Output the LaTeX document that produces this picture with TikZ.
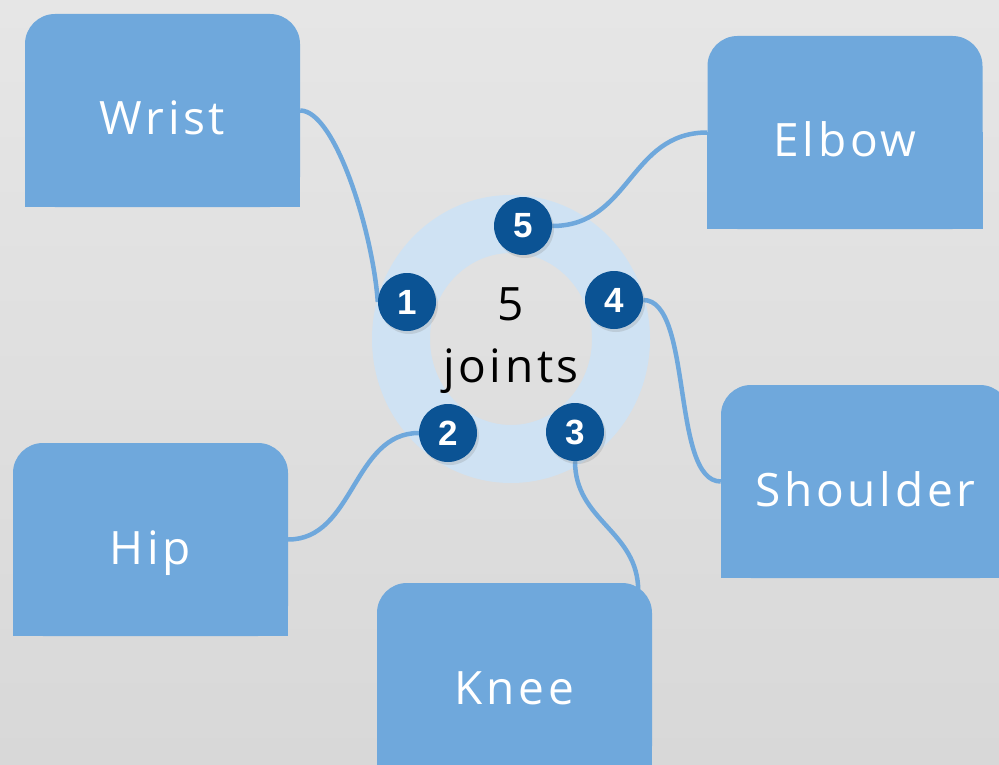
\documentclass[tikz,border=0pt]{standalone}
\usepackage{fontspec}
\setmainfont{Open Sans}
\newfontfamily\lblfont[LetterSpace=8]{Open Sans}
\newfontfamily\numfont{Liberation Sans}
\usetikzlibrary{shadows}
\definecolor{boxc}{HTML}{6FA8DC}
\definecolor{ringc}{HTML}{CFE2F3}
\definecolor{badgec}{HTML}{0B5394}
\definecolor{bgtop}{HTML}{E6E6E6}
\definecolor{bgbot}{HTML}{D8D8D8}
\pgfdeclarelayer{bg}
\pgfdeclarelayer{lines}
\pgfsetlayers{bg,lines,main}
\begin{document}
\begin{tikzpicture}[x=1pt,y=-1pt,
  jbox/.style={fill=boxc, minimum width=275pt, minimum height=193pt, rounded corners=30pt, inner sep=0pt},
  lbl/.style={text=white, font=\lblfont\fontsize{46}{50}\selectfont, anchor=base, inner sep=0pt},
  badge/.style={circle, fill=badgec, minimum size=58pt, inner sep=0pt, text=white,
    font=\numfont\bfseries\fontsize{35}{38}\selectfont,
    drop shadow={opacity=0.22, shadow xshift=2pt, shadow yshift=-3pt}},
  link/.style={draw=boxc, line width=4.5pt}]
\useasboundingbox (0,0) rectangle (999,765);
\clip (0,0) rectangle (999,765);
\begin{pgfonlayer}{bg}
  \fill[top color=bgtop, bottom color=bgbot] (0,0) rectangle (999,765);
  \fill[ringc, even odd rule] (511,339) ellipse [x radius=139, y radius=144]
                              (511,339) ellipse [x radius=81, y radius=86];
\end{pgfonlayer}
% boxes
\node[jbox] (wrist) at (162.5,110.5) {};
\node[jbox] (elbow) at (845,132.5) {};
\node[jbox, minimum width=289pt] (shoulder) at (865.5,481.5) {};
\node[jbox] (hip) at (150.5,539.5) {};
\node[jbox] (knee) at (514.5,679.5) {};
\foreach \b in {wrist,elbow,shoulder,hip,knee}{
  \fill[boxc] (\b.west) rectangle (\b.south east);
}
\node[lbl] (twrist) at ([yshift=-24.5pt]wrist.center) {Wrist};
\node[lbl] (telbow) at ([yshift=-24.5pt]elbow.center) {Elbow};
\node[lbl] (tshoulder) at ([yshift=-24.5pt]shoulder.center) {Shoulder};
\node[lbl] (thip) at ([yshift=-24.5pt]hip.center) {Hip};
\node[lbl] (tknee) at ([yshift=-24.5pt]knee.center) {Knee};
% center text
\node[font=\lblfont\fontsize{46}{62}\selectfont, align=center, anchor=base, inner sep=0pt] (ctr) at (511,382) {5\\joints};
% badges
\node[badge] (b5) at (523,226) {5};
\node[badge] (b1) at (407,302) {1};
\node[badge] (b4) at (614,300) {4};
\node[badge] (b2) at (448,433) {2};
\node[badge] (b3) at (575,432) {3};
\coordinate (kneeend) at ([xshift=-14pt,yshift=-8pt]knee.north east);
\begin{pgfonlayer}{lines}
  \draw[link] (wrist.east) .. controls +(35,0) and +(-5,-70) .. (b1.west);
  \draw[link] (elbow.west) .. controls +(-78,0) and +(78,0) .. (b5.east);
  \draw[link] (b4.east) .. controls +(50,0) and +(-50,0) .. (shoulder.west);
  \draw[link] (hip.east) .. controls +(66,0) and +(-66,0) .. (b2.west);
  \draw[link] (b3.south) .. controls +(0,60) and +(0,-60) .. (kneeend);
\end{pgfonlayer}
\end{tikzpicture}
\end{document}
